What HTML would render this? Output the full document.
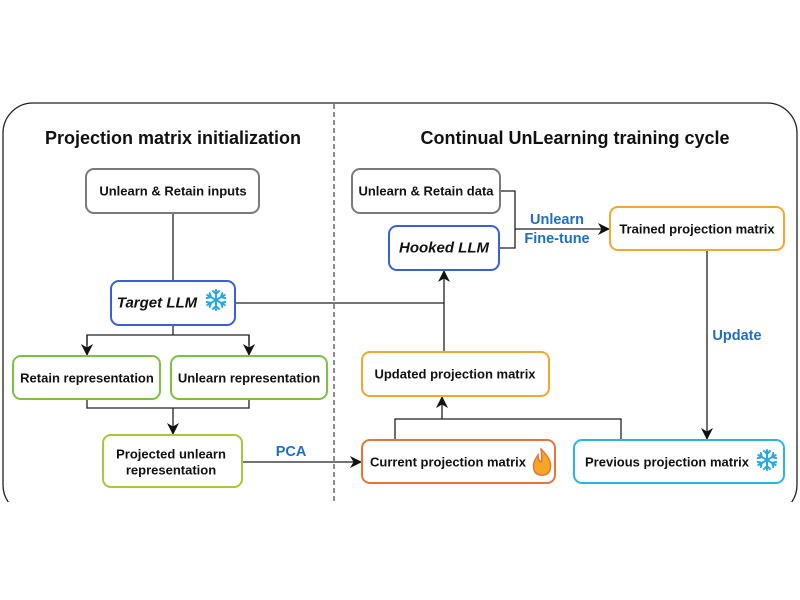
<!DOCTYPE html>
<html><head><meta charset="utf-8"><style>
html,body{margin:0;padding:0;background:#fff;}
svg{display:block;font-family:"Liberation Sans",Arial,sans-serif;}
.t{font-weight:bold;font-size:13px;fill:#111;text-anchor:middle;dominant-baseline:central;}
.b{font-weight:bold;font-size:14.5px;fill:#1f6fbf;text-anchor:middle;dominant-baseline:central;}
.ln{stroke:#222;stroke-width:1.3;fill:none;}
</style></head><body>
<svg width="800" height="600" viewBox="0 0 800 600">
<defs>
<marker id="a" markerWidth="12" markerHeight="12" refX="11" refY="6" orient="auto" markerUnits="userSpaceOnUse">
<path d="M0,0 L12,6 L0,12 L3.5,6 z" fill="#111"/></marker>
<clipPath id="c"><rect x="0" y="0" width="800" height="502"/></clipPath>
<g id="snow" stroke-width="2" stroke-linecap="round" fill="none">
<line x1="0" y1="-10" x2="0" y2="10"/><line x1="-8.7" y1="-5" x2="8.7" y2="5"/><line x1="-8.7" y1="5" x2="8.7" y2="-5"/>
<polyline points="-3,-9 0,-6 3,-9"/><polyline points="-3,9 0,6 3,9"/>
<polyline points="-9.3,-1.9 -5.2,-3 -6.3,-7"/><polyline points="9.3,1.9 5.2,3 6.3,7"/>
<polyline points="-9.3,1.9 -5.2,3 -6.3,7"/><polyline points="9.3,-1.9 5.2,-3 6.3,-7"/>
</g>
</defs>
<rect x="3" y="103" width="794" height="412" rx="30" fill="none" stroke="#222" stroke-width="1.3" clip-path="url(#c)"/>
<line x1="334" y1="104" x2="334" y2="502" stroke="#222" stroke-width="1" stroke-dasharray="5,3"/>
<text x="173" y="138" style="font-weight:bold;font-size:18px;text-anchor:middle;dominant-baseline:central;fill:#111">Projection matrix initialization</text>
<text x="575" y="138" style="font-weight:bold;font-size:18px;text-anchor:middle;dominant-baseline:central;fill:#111">Continual UnLearning training cycle</text>

<line class="ln" x1="173" y1="213" x2="173" y2="281"/>
<polyline class="ln" points="173,325 173,335"/>
<polyline class="ln" points="87,345 87,335 249,335 249,345"/>
<line class="ln" x1="87" y1="335" x2="87" y2="355" marker-end="url(#a)"/>
<line class="ln" x1="249" y1="335" x2="249" y2="355" marker-end="url(#a)"/>
<polyline class="ln" points="87,399 87,408 249,408 249,399"/>
<line class="ln" x1="173" y1="408" x2="173" y2="434" marker-end="url(#a)"/>
<line class="ln" x1="242" y1="462" x2="361" y2="462" marker-end="url(#a)"/>
<polyline class="ln" points="235,303 444,303"/>
<line class="ln" x1="444" y1="352" x2="444" y2="271" marker-end="url(#a)"/>
<polyline class="ln" points="500,191 515,191 515,248 500,248"/>
<line class="ln" x1="515" y1="229" x2="609" y2="229" marker-end="url(#a)"/>
<line class="ln" x1="707" y1="250" x2="707" y2="439" marker-end="url(#a)"/>
<polyline class="ln" points="395,440 395,419 621,419 621,440"/>
<line class="ln" x1="442" y1="419" x2="442" y2="397" marker-end="url(#a)"/>

<g stroke-width="2" fill="#fff">
<rect x="86" y="169" width="173" height="44" rx="8" stroke="#7a7a7a"/>
<rect x="111" y="281" width="124" height="44" rx="8" stroke="#3b5fd8"/>
<rect x="13" y="356" width="147" height="43" rx="8" stroke="#7cc242"/>
<rect x="171" y="356" width="156" height="43" rx="8" stroke="#7cc242"/>
<rect x="103" y="435" width="139" height="52" rx="8" stroke="#a8c83a"/>
<rect x="352" y="169" width="148" height="44" rx="8" stroke="#7a7a7a"/>
<rect x="389" y="226" width="110" height="44" rx="8" stroke="#3b5fd8"/>
<rect x="610" y="207" width="174" height="43" rx="8" stroke="#f0a830"/>
<rect x="362" y="352" width="187" height="44" rx="8" stroke="#f0a830"/>
<rect x="362" y="440" width="193" height="43" rx="8" stroke="#e8743b"/>
<rect x="574" y="440" width="210" height="43" rx="8" stroke="#2bb5e2"/>
</g>

<text class="t" x="173" y="191">Unlearn &amp; Retain inputs</text>
<text class="t" x="157" y="303" style="font-style:italic;font-size:15px">Target LLM</text>
<use href="#snow" x="216" y="300" stroke="#27a8e0"/>
<text class="t" x="87" y="378">Retain representation</text>
<text class="t" x="249" y="378">Unlearn representation</text>
<text class="t" x="171" y="454">Projected unlearn</text>
<text class="t" x="171" y="470">representation</text>
<text class="b" x="291" y="452">PCA</text>
<text class="t" x="426" y="191">Unlearn &amp; Retain data</text>
<text class="t" x="444" y="248" style="font-style:italic;font-size:15px">Hooked LLM</text>
<text class="b" x="557" y="220">Unlearn</text>
<text class="b" x="557" y="239">Fine-tune</text>
<text class="t" x="697" y="229">Trained projection matrix</text>
<text class="b" x="737" y="336">Update</text>
<text class="t" x="455" y="374">Updated projection matrix</text>
<text class="t" x="448" y="462">Current projection matrix</text>
<path d="M541,449 C548,456 552,462 550,470 C548,477 536,477 534,470 C532,463 536,458 538,455 C538,460 540,462 541,462 C543,458 541,453 541,449 z" fill="#f5a623" stroke="#e8743b" stroke-width="1.5"/>
<text class="t" x="667" y="462">Previous projection matrix</text>
<use href="#snow" x="767" y="460" stroke="#27a8e0"/>
</svg>
</body></html>
